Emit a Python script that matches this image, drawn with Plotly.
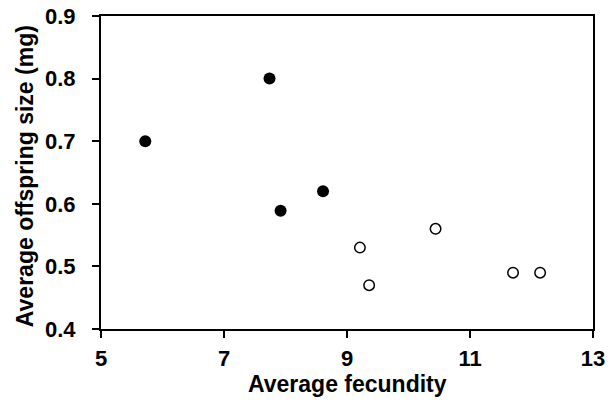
import plotly.graph_objects as go

filled_x = [5.72, 7.74, 7.92, 8.61]
filled_y = [0.70, 0.80, 0.589, 0.62]
open_x = [9.21, 9.36, 10.44, 11.70, 12.14]
open_y = [0.53, 0.47, 0.56, 0.49, 0.49]

x_ticks = [5, 7, 9, 11, 13]
y_ticks = [0.4, 0.5, 0.6, 0.7, 0.8, 0.9]
y_labels = ["0.4", "0.5", "0.6", "0.7", "0.8", "0.9"]
x_title = "Average fecundity"
y_title = "Average offspring size (mg)"

FONT = "Liberation Sans"
tf = dict(family=FONT, size=22, color="black")
ttl = dict(family=FONT, size=23, color="black")

fig = go.Figure()
fig.add_trace(go.Scatter(x=filled_x, y=filled_y, mode="markers",
                         marker=dict(size=12, color="black", line=dict(width=0)),
                         showlegend=False, hoverinfo="skip"))
fig.add_trace(go.Scatter(x=open_x, y=open_y, mode="markers",
                         marker=dict(size=10.5, color="white", line=dict(width=1.5, color="black")),
                         showlegend=False, hoverinfo="skip"))

fig.update_layout(
    width=612, height=419,
    margin=dict(l=101, r=19, t=16, b=90, autoexpand=False),
    paper_bgcolor="white", plot_bgcolor="white",
    font=tf,
)
fig.update_xaxes(
    range=[5, 13], tickvals=x_ticks, ticktext=["<b>%d</b>" % v for v in x_ticks],
    showgrid=False, zeroline=False, automargin=False,
    showline=True, linecolor="black", linewidth=2, mirror=True,
    ticks="outside", ticklen=7, tickwidth=2, tickcolor="black",
    tickfont=tf, ticklabelstandoff=2,
)
fig.update_yaxes(
    range=[0.4, 0.9], tickvals=y_ticks, ticktext=["<b>%s</b>" % s for s in y_labels],
    showgrid=False, zeroline=False, automargin=False,
    showline=True, linecolor="black", linewidth=2, mirror=True,
    ticks="outside", ticklen=7, tickwidth=2, tickcolor="black",
    tickfont=tf, ticklabelstandoff=12,
)
fig.add_annotation(text="<b>%s</b>" % x_title, xref="paper", yref="paper",
                   x=0.5, y=-0.175, xanchor="center", yanchor="middle",
                   showarrow=False, font=ttl)
fig.add_annotation(text="<b>%s</b>" % y_title, xref="paper", yref="paper",
                   x=-0.154, y=0.489, xanchor="center", yanchor="middle",
                   textangle=-90, showarrow=False, font=ttl)

fig.write_html("out.html")
